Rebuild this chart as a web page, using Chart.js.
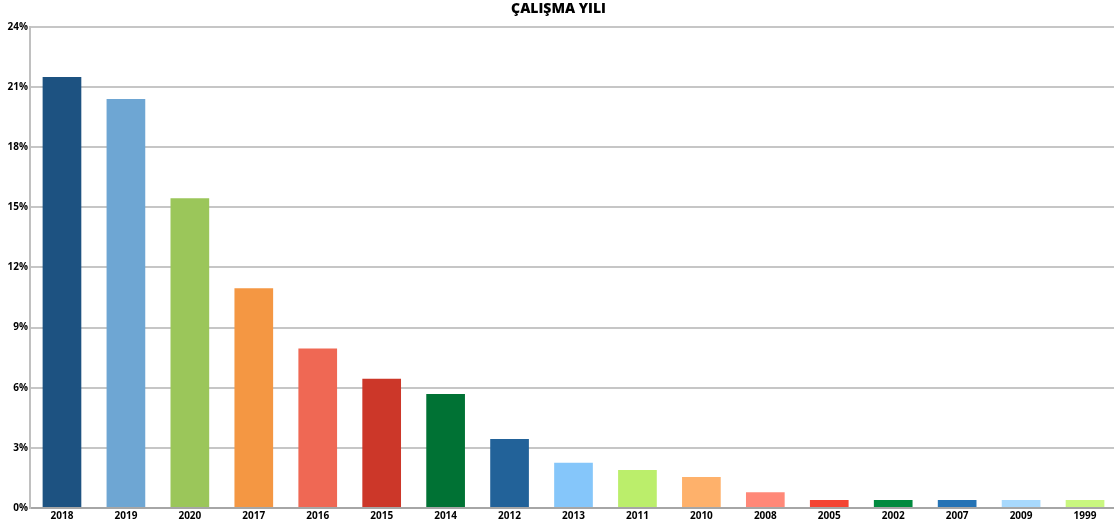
<!DOCTYPE html>
<html>
<head>
<meta charset="utf-8">
<script src="https://cdn.jsdelivr.net/npm/chart.js@4/dist/chart.umd.min.js"></script>
<style>
html,body{margin:0;padding:0;background:#fff;overflow:hidden;}
#wrap{width:1114px;height:523px;position:relative;overflow:hidden;}
</style>
</head>
<body>
<div id="wrap"><canvas id="c" width="1117" height="523"></canvas></div>
<script>
const titleText = 'ÇALIŞMA YILI';
const categories = ['2018','2019','2020','2017','2016','2015','2014','2012','2013','2011','2010','2008','2005','2002','2007','2009','1999'];
const values = [21.5, 20.4, 15.45, 10.96, 7.96, 6.45, 5.68, 3.44, 2.26, 1.9, 1.55, 0.78, 0.4, 0.4, 0.4, 0.4, 0.4];
const barColors = ['#1d5281','#6ea6d3','#9bc65a','#f49743','#ef6854','#cc3729','#007234','#226299','#85c6fa','#bbee6b','#feb16b','#ff8878','#f44432','#008a3e','#2573b5','#a8d9fd','#c9f77f'];
const yTicks = [0,3,6,9,12,15,18,21,24];

const FONT = "'Open Sans', 'DejaVu Sans', sans-serif";

new Chart(document.getElementById('c'), {
  type: 'bar',
  data: {
    labels: categories,
    datasets: [{
      data: values,
      backgroundColor: barColors,
      borderWidth: 0,
      barPercentage: 0.605,
      categoryPercentage: 1.0
    }]
  },
  options: {
    responsive: false,
    animation: false,
    devicePixelRatio: 1,
    layout: { padding: { left: 0, right: 0, top: 0, bottom: 0 } },
    plugins: {
      legend: { display: false },
      tooltip: { enabled: false },
      title: {
        display: true,
        text: titleText,
        color: '#000',
        font: { family: FONT, size: 14, weight: 800 },
        padding: { top: 1, bottom: 9 }
      }
    },
    scales: {
      x: {
        grid: { display: false, drawTicks: false },
        border: { display: true, color: '#a6a6a6', width: 2 },
        ticks: {
          color: '#000',
          font: { family: FONT, size: 10, weight: 'bold' },
          padding: 2,
          maxRotation: 0,
          autoSkip: false
        },
        afterFit: s => { s.height = 15; }
      },
      y: {
        min: 0,
        max: 24,
        afterBuildTicks: s => { s.ticks = yTicks.map(v => ({ value: v })); },
        grid: { color: '#c6c6c6', lineWidth: 2, drawTicks: false },
        border: { display: true, color: '#c0c0c0', width: 2 },
        ticks: {
          color: '#000',
          font: { family: FONT, size: 10, weight: 'bold' },
          padding: 2,
          callback: v => v + '%'
        },
        afterFit: s => { s.width = 30; }
      }
    }
  }
});
</script>
</body>
</html>
